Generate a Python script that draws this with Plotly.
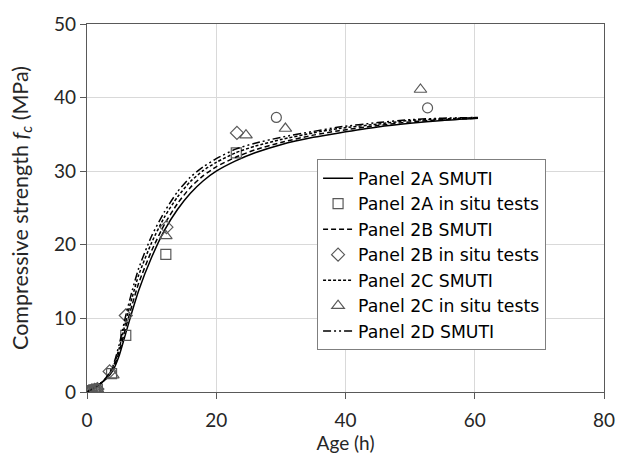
import plotly.graph_objects as go

# SMUTI curves (age in h, strength in MPa)
age_smuti = [0, 1, 2, 3, 4, 5, 6, 7, 8, 10, 12, 14, 16, 18, 20, 23, 26, 30, 35, 39, 45, 50, 55, 60.5]
fc_2a_smuti = [0, 0.5, 1.1, 1.8, 2.9, 5.0, 8.0, 11.0, 13.8, 18.3, 22.0, 24.8, 27.0, 28.7, 30.0, 31.4, 32.5, 33.6, 34.6, 35.2, 36.0, 36.5, 36.9, 37.2]
fc_2b_smuti = [0, 0.5, 1.1, 1.9, 3.1, 5.5, 8.8, 11.9, 14.8, 19.2, 22.8, 25.6, 27.8, 29.4, 30.6, 31.9, 32.9, 33.9, 34.9, 35.5, 36.2, 36.7, 37.0, 37.2]
fc_2c_smuti = [0, 0.5, 1.1, 1.9, 3.3, 6.0, 9.6, 12.9, 15.9, 20.3, 23.8, 26.5, 28.6, 30.1, 31.2, 32.5, 33.4, 34.3, 35.2, 35.8, 36.4, 36.9, 37.1, 37.3]
fc_2d_smuti = [0, 0.5, 1.1, 2.0, 3.5, 6.5, 10.4, 13.8, 16.8, 21.2, 24.5, 27.2, 29.2, 30.6, 31.7, 33.0, 33.8, 34.6, 35.4, 36.0, 36.6, 37.0, 37.2, 37.3]

# In situ tests
age_2a_test = [0.3, 0.7, 1.2, 1.6, 3.8, 6.0, 12.2, 23.1]
fc_2a_test = [0.1, 0.2, 0.3, 0.4, 2.5, 7.7, 18.7, 32.5]
age_2b_test = [0.3, 0.7, 1.2, 1.6, 3.5, 6.0, 12.3, 23.2]
fc_2b_test = [0.1, 0.2, 0.3, 0.4, 2.8, 10.4, 22.4, 35.2]
age_2c_test = [0.3, 0.7, 1.2, 1.6, 4.0, 12.2, 24.6, 30.7, 51.6]
fc_2c_test = [0.1, 0.2, 0.3, 0.4, 2.3, 21.2, 34.9, 35.8, 41.1]
age_2d_test = [0.3, 0.7, 1.2, 1.6, 29.3, 52.7]
fc_2d_test = [0.1, 0.2, 0.3, 0.4, 37.3, 38.6]

x_ticks = [0, 20, 40, 60, 80]
y_ticks = [0, 10, 20, 30, 40, 50]

FONT = "Lato"
LEG_FONT = "DejaVu Sans"
TXT = "#262626"
MK = "#595959"

fig = go.Figure()

def line(y, name, dash):
    fig.add_trace(go.Scatter(x=age_smuti, y=y, mode="lines", name=name,
                             line=dict(color="black", width=1.5, dash=dash, shape="spline", smoothing=0.6)))

def pts(x, y, name, symbol, show=True, size=9):
    fig.add_trace(go.Scatter(x=x, y=y, mode="markers", name=name, showlegend=show,
                             marker=dict(symbol=symbol, size=size, color=MK,
                                         line=dict(color=MK, width=1.2))))

line(fc_2a_smuti, "Panel 2A SMUTI", "solid")
pts(age_2a_test, fc_2a_test, "Panel 2A in situ tests", "square-open", size=10)
line(fc_2b_smuti, "Panel 2B SMUTI", "5px,3px")
pts(age_2b_test, fc_2b_test, "Panel 2B in situ tests", "diamond-open", size=10)
line(fc_2c_smuti, "Panel 2C SMUTI", "3px,2px")
pts(age_2c_test, fc_2c_test, "Panel 2C in situ tests", "triangle-up-open", size=11)
line(fc_2d_smuti, "Panel 2D SMUTI", "8px,3px,2px,3px,2px,3px")
pts(age_2d_test, fc_2d_test, "Panel 2D in situ tests", "circle-open", show=False, size=10)

fig.update_layout(
    width=627, height=457,
    margin=dict(l=87, r=19, t=17, b=65),
    paper_bgcolor="white", plot_bgcolor="white",
    font=dict(family=FONT, size=19, color=TXT),
    showlegend=True,
    legend=dict(x=0.445, y=0.632, xanchor="left", yanchor="top",
                bgcolor="white", bordercolor="#7f7f7f", borderwidth=1,
                font=dict(family=LEG_FONT, size=17.3, color="black"),
                tracegroupgap=0, itemwidth=30),
)
fig.update_xaxes(range=[0, 80], tickvals=x_ticks, showgrid=True, gridcolor="#d9d9d9", gridwidth=1,
                 showline=True, linecolor="#595959", linewidth=1.3, mirror=True,
                 ticks="outside", ticklen=6, tickcolor="#595959", zeroline=False,
                 ticklabelstandoff=5,
                 title=dict(text="Age (h)", standoff=1, font=dict(family=FONT, size=19, color=TXT)),
                 tickfont=dict(family=FONT, size=19, color=TXT))
fig.update_yaxes(range=[0, 50], tickvals=y_ticks, showgrid=True, gridcolor="#d9d9d9", gridwidth=1,
                 showline=True, linecolor="#595959", linewidth=1.3, mirror=True,
                 ticks="outside", ticklen=6, tickcolor="#595959", zeroline=False,
                 title=dict(text="Compressive strength <i>f</i><sub><i>c</i></sub> (MPa)", standoff=19,
                            font=dict(family=FONT, size=21.5, color=TXT)),
                 tickfont=dict(family=FONT, size=19, color=TXT))

fig.write_html("out.html")
